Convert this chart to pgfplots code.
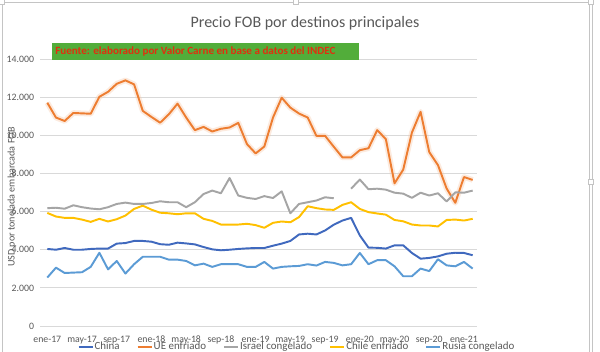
\documentclass[border=0pt]{standalone}
\usepackage{pgfplots}
\pgfplotsset{compat=1.18}
\usepackage{fontspec}
\setmainfont{Carlito}
\definecolor{cChina}{HTML}{4069BE}
\definecolor{cUE}{HTML}{ED7D31}
\definecolor{cIsr}{HTML}{A5A5A5}
\definecolor{cChi}{HTML}{FFC000}
\definecolor{cRus}{HTML}{5B9BD5}
\definecolor{txtgrey}{HTML}{595959}
\definecolor{gridgrey}{HTML}{D9D9D9}
\definecolor{boxgreen}{HTML}{52AD3A}
\definecolor{boxred}{HTML}{E0300F}
\definecolor{framegrey}{HTML}{C4C4C4}

\pgfplotstableread{
i china ue israel chile rusia
0 4040 11710 6180 5930 2540
1 4000 10930 6200 5740 3060
2 4090 10750 6150 5670 2780
3 4000 11170 6330 5670 2800
4 4000 11150 6230 5580 2820
5 4040 11130 6160 5460 3100
6 4060 12020 6120 5620 3840
7 4060 12280 6230 5480 2970
8 4320 12700 6400 5600 3410
9 4350 12880 6470 5790 2750
10 4460 12670 6400 6140 3240
11 4460 11280 6400 6310 3630
12 4420 10960 6450 6100 3630
13 4290 10660 6540 5940 3630
14 4260 11100 6490 5910 3480
15 4370 11660 6490 5860 3480
16 4330 10930 6230 5910 3410
17 4280 10270 6490 5910 3180
18 4140 10440 6920 5620 3270
19 4020 10200 7100 5510 3100
20 3970 10340 6960 5320 3240
21 4000 10410 7760 5320 3240
22 4040 10650 6840 5320 3240
23 4070 9540 6720 5360 3100
24 4090 9050 6660 5290 3100
25 4090 9410 6810 5150 3360
26 4210 10930 6710 5410 3010
27 4320 11970 7060 5480 3100
28 4460 11450 5910 5440 3130
29 4800 11140 6400 5710 3150
30 4840 10930 6490 6280 3240
31 4800 9970 6580 6180 3170
32 5010 9970 6750 6110 3360
33 5310 9400 6700 6090 3310
34 5530 8840 nan 6350 3180
35 5670 8840 7200 6490 3240
36 4750 9220 7680 6140 3830
37 4110 9320 7170 5970 3240
38 4100 10270 7200 5900 3450
39 4060 9800 7150 5840 3450
40 4230 7480 6990 5560 3130
41 4230 8200 6940 5490 2610
42 3830 10140 6720 5320 2610
43 3530 11230 6990 5270 3010
44 3570 9120 6840 5270 2880
45 3650 8440 6960 5220 3500
46 3790 7210 6530 5560 3180
47 3840 6460 7010 5580 3130
48 3830 7810 6990 5530 3360
49 3710 7660 7100 5620 3010
}\datatable

\begin{document}
\begin{tikzpicture}
% picture frame: 600 x 351 px, 1px = 0.75pt
\useasboundingbox (0pt,0pt) rectangle (450pt,263.25pt);
\fill[white] (0pt,0pt) rectangle (450pt,263.25pt);
\begin{axis}[
  at={(30pt,18.75pt)}, anchor=south west,
  scale only axis,
  width=327.75pt, height=200.25pt,
  xmin=-0.84, xmax=49.5,
  ymin=0, ymax=14000,
  axis line style={draw=none},
  tick style={draw=none},
  ymajorgrids,
  grid style={gridgrey, line width=0.6pt},
  ytick={0,2000,...,14000},
  xtick={0,4,...,48},
  xticklabels={ene-17,may-17,sep-17,ene-18,may-18,sep-18,ene-19,may-19,sep-19,ene-20,may-20,sep-20,ene-21},
  /pgf/number format/.cd, 1000 sep={.}, assume math mode=true,
  /pgfplots/.cd,
  ticklabel style={font=\fontsize{7.35pt}{8pt}\selectfont, text=txtgrey},
  xticklabel style={anchor=base, inner sep=0pt, yshift=-12.6pt},
  yticklabel style={anchor=east, inner sep=0pt, xshift=-4.3pt},
  scaled y ticks=false,
  unbounded coords=jump,
  every axis plot/.append style={line width=1.45pt, line join=round},
  legend columns=5,
  legend image code/.code={\draw[#1] (0pt,0pt) -- (10.5pt,0pt);},
  legend style={at={(0.587,-0.078)}, anchor=center, draw=none, fill=none,
    font=\fontsize{8.2pt}{8.4pt}\selectfont, text=txtgrey,
    inner sep=0pt,
    nodes={inner sep=0.8pt},
    /tikz/every even column/.append style={column sep=12pt}},
]
\addplot[cChina] table[x=i,y=china] {\datatable};
\addlegendentry{China}
\addplot[cUE!45, line width=4.2pt, opacity=0.35, forget plot] table[x=i,y=ue] {\datatable};
\addplot[cUE] table[x=i,y=ue] {\datatable};
\addlegendentry{UE enfriado}
\addplot[cIsr] table[x=i,y=israel] {\datatable};
\addlegendentry{Israel congelado}
\addplot[cChi] table[x=i,y=chile] {\datatable};
\addlegendentry{Chile enfriado}
\addplot[cRus] table[x=i,y=rusia] {\datatable};
\addlegendentry{Rusia congelado}
\end{axis}
% title
\node[text=txtgrey, font=\fontsize{12pt}{14pt}\selectfont] at (228.75pt,246pt) {Precio FOB por destinos principales};
% y label
\node[rotate=90, text=txtgrey, font=\fontsize{7.6pt}{9pt}\selectfont] at (9pt,115.5pt) {USD por tonelada embarcada FOB};
% source box
\fill[boxgreen] (39pt,218.25pt) rectangle (269.25pt,231pt);
\node[anchor=west, inner sep=0pt, text=boxred, font=\fontsize{8.3pt}{9pt}\selectfont\bfseries] at (41.25pt,224.6pt) {Fuente: elaborado por Valor Carne en base a datos del INDEC};
% frame
\draw[framegrey, line width=0.6pt] (1.5pt,-2pt) -- (1.5pt,261.75pt) -- (443pt,261.75pt);
\draw[framegrey, line width=0.6pt] (441.75pt,-2pt) -- (441.75pt,261.75pt);
\draw[framegrey, line width=0.6pt] (444pt,-2pt) -- (444pt,261.75pt);
\foreach \p in {(1.5pt,261.75pt),(222pt,261.75pt),(442.9pt,261.75pt),(442.9pt,126.75pt)}
  \filldraw[draw=framegrey, fill=white, line width=0.5pt] \p ++(-1.8pt,-1.8pt) rectangle ++(3.6pt,3.6pt);
\end{tikzpicture}
\end{document}
